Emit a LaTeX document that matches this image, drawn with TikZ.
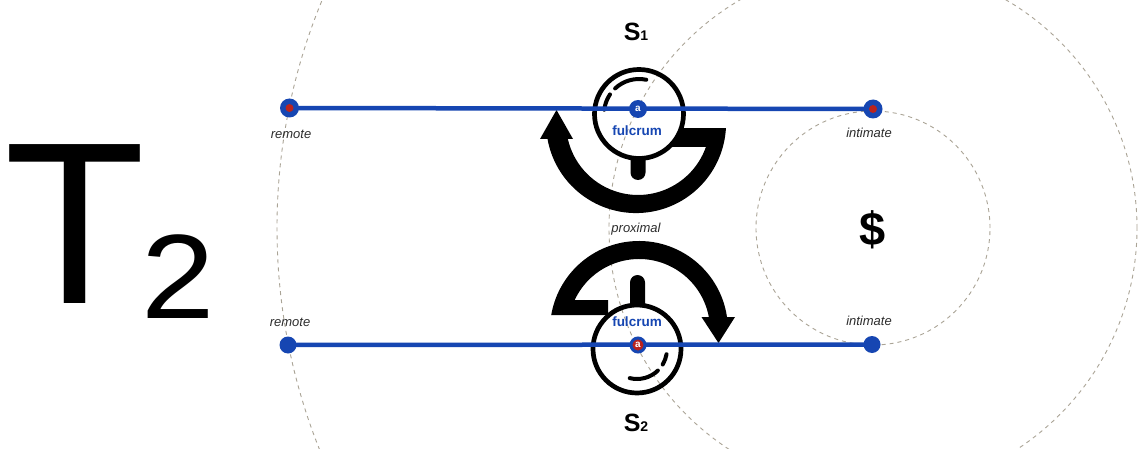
\documentclass[tikz,border=0pt]{standalone}
\usepackage{fontspec}
\setmainfont{Liberation Sans}
\usetikzlibrary{calc}
\definecolor{lineblue}{RGB}{22,70,178}
\definecolor{dotred}{RGB}{185,35,30}
\definecolor{guide}{RGB}{170,164,150}
\definecolor{labelgray}{RGB}{45,45,45}
\tikzset{
 guidecircle/.style={draw=guide, line width=0.9pt, dash pattern=on 4pt off 4pt},
 axisline/.style={draw=lineblue, line width=4.5pt},
 ring/.style={draw=black, line width=4.7pt},
 glint/.style={draw=black, line width=4pt, line cap=round},
 enddot/.style={circle, fill=lineblue, minimum size=19pt, inner sep=0pt},
 smalldot/.style={circle, fill=lineblue, minimum size=17pt, inner sep=0pt},
 reddot/.style={circle, fill=dotred, minimum size=8pt, inner sep=0pt},
 fulcdot/.style={circle, fill=lineblue, minimum size=18pt, inner sep=0pt, text=white, font=\fontsize{10}{10}\selectfont\bfseries},
 poslabel/.style={text=labelgray, font=\fontsize{13}{13}\selectfont\itshape, inner sep=0pt, anchor=base},
 fulclabel/.style={text=lineblue, font=\fontsize{13.5}{13.5}\selectfont\bfseries, inner sep=0pt},
 slabel/.style={font=\fontsize{25}{25}\selectfont\bfseries, inner sep=0pt, anchor=base},
}
\begin{document}
\begin{tikzpicture}[x=1pt,y=1pt]
\useasboundingbox (0,0) rectangle (1138,448);
\fill[white] (0,0) rectangle (1138,448);
% guide circles
\begin{scope}
\clip (0,0) rectangle (1138,448);
\coordinate (ctr) at (873,220);
\draw[guidecircle] (ctr) circle[radius=117];
\draw[guidecircle] (ctr) circle[radius=264];
\draw[guidecircle] (ctr) circle[radius=596];
\end{scope}
% big title
\node[anchor=base west, inner sep=0pt, font=\fontsize{231}{231}\selectfont] (T) at (4,145) {T};
\node[anchor=base west, inner sep=0pt, xscale=1.1, font=\fontsize{120}{120}\selectfont] (two) at (141,130) {2};
% top lever band (circle centre 638,325)
\begin{scope}[even odd rule]
\clip (0,0) rectangle (1138,448) (639,334) circle[radius=43];
\fill (547.5,309) arc[start angle=190.2, end angle=356.8, radius=90]
  -- (660,320) -- (660,301) -- (705.9,301)
  arc[start angle=340.5, end angle=192.8, radius=72] -- cycle;
\end{scope}
\fill (556.5,338) -- (540,309) -- (573,309) -- cycle;
% bottom lever band (circle centre 639,118)
\begin{scope}[even odd rule]
\clip (0,0) rectangle (1138,448) (637,99) circle[radius=43];
\fill (727,131) arc[start angle=8.4, end angle=170.3, radius=89]
  -- (608,133) -- (608,148) -- (574.7,148)
  arc[start angle=155, end angle=10.5, radius=71] -- cycle;
\end{scope}
\fill (718.5,105) -- (701.5,131) -- (735,131) -- cycle;
% fulcrum circles
\draw[ring] (639,334) circle[radius=44.5];
\draw[ring] (637,99) circle[radius=44];
% stems
\fill (630.5,291) -- (630.5,275.5) arc[start angle=180, end angle=360, radius=7.5] -- (645.5,291) -- cycle;
\fill (630,143) -- (630,165.5) arc[start angle=180, end angle=0, radius=7.5] -- (645,143) -- cycle;
% glints
\draw[glint] ([shift={(78:35)}]639,334) arc[start angle=78, end angle=133, radius=35];
\draw[glint] ([shift={(146:35)}]639,334) arc[start angle=146, end angle=173, radius=35];
\draw[glint] ([shift={(-104:30)}]637,99) arc[start angle=-104, end angle=-46, radius=30];
\draw[glint] ([shift={(-31:30)}]637,99) arc[start angle=-31, end angle=-10, radius=30];
% axis lines
\coordinate (r1) at (289.5,340);
\coordinate (i1) at (873,339);
\coordinate (r2) at (288,103);
\coordinate (i2) at (872,103.5);
\draw[axisline] (r1) -- (i1);
\draw[axisline] (r2) -- (i2);
\node[enddot] (rd1) at (r1) {};
\node[reddot] (rc1) at (r1) {};
\node[enddot] (id1) at (i1) {};
\node[reddot] (ic1) at (i1) {};
\node[smalldot] (rd2) at (r2) {};
\node[smalldot] (id2) at (i2) {};
\node[fulcdot] (f1) at (638,339) {a};
\node[fulcdot, fill=dotred, draw=lineblue, line width=3pt, minimum size=14pt] (f2) at (638,103) {a};
% labels
\node[poslabel] (lr1) at (291,309) {remote};
\node[poslabel] (li1) at (869,310) {intimate};
\node[poslabel] (lr2) at (290,122) {remote};
\node[poslabel] (li2) at (869,123) {intimate};
\node[poslabel] (lp) at (636,216) {proximal};
\node[fulclabel] (fl1) at (637,317) {fulcrum};
\node[fulclabel] (fl2) at (637,126) {fulcrum};
\node[slabel] (s1) at (636,407) {S{\fontsize{14}{14}\selectfont 1}};
\node[slabel] (s2) at (636,17) {S{\fontsize{14}{14}\selectfont 2}};
\node[inner sep=0pt, font=\fontsize{47}{47}\selectfont\bfseries] (dollar) at (873,218) {\$};
\end{tikzpicture}
\end{document}
